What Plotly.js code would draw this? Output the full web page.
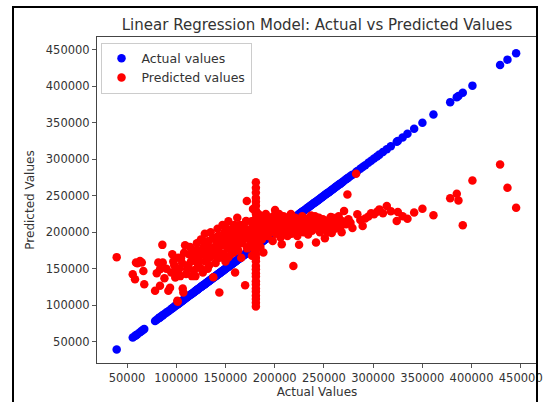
<!DOCTYPE html>
<html>
<head>
<meta charset="utf-8">
<script src="https://cdn.plot.ly/plotly-3.0.1.min.js"></script>
<style>
  html, body { margin: 0; padding: 0; background: #ffffff; }
  #wrap { position: relative; width: 547px; height: 402px; overflow: hidden; }
  #chart { position: absolute; left: 0; top: 0; width: 547px; height: 402px; }
  #frame { position: absolute; left: 12px; top: 6px; width: 526px; height: 420px;
           border: 2px solid #000; box-sizing: border-box; pointer-events: none; }
</style>
</head>
<body>
<div id="wrap">
  <div id="chart"></div>
  <div id="frame"></div>
</div>
<script>
// Actual sale prices (x) and model predictions (y)
const actualValues = [
  39500, 55800, 58100, 59100, 60500, 63200, 65000, 66600, 67500,
  78500, 80200, 81800, 83500, 83500, 85900, 86300, 88000, 90000, 92000, 93700,
  95000, 97000, 99000, 101500, 101100, 103000, 105000, 106600, 107200, 109000,
  110000, 112000, 113000, 115000, 116000, 118000, 119000, 120000, 121000, 122000,
  124000, 125000, 126000, 127000, 128000, 129000, 130000, 131000, 132000, 133000,
  134000, 135000, 136000, 137700, 138000, 139000, 140000, 141000, 142000, 143000,
  143800, 144000, 145000, 146000, 147000, 148000, 149000, 150000, 151000, 152000,
  153000, 154000, 155000, 156000, 157000, 158000, 159800, 160000, 161000, 162000,
  163000, 164000, 165000, 166000, 167000, 171700, 169000, 170000, 171000, 172000,
  173000, 171000, 175000, 176000, 177000, 178000, 179000,
  96000, 98000, 100000, 102000, 104000, 106000, 108000, 111000, 114000, 117000,
  119500, 121500, 123000, 125500, 127500, 129500, 131500, 133500, 135500, 137000,
  139500, 141500, 142500, 144500, 146500, 147500, 149500, 151500, 152500, 154500,
  156500, 157500, 159000, 161500, 163500, 164500, 166500, 168500, 170500, 172500,
  174500, 176500, 177500, 178500, 179500, 182000, 183500, 185500,
  180921, 180921, 180921, 180921, 180921, 180921, 180921, 180921, 180921, 180921,
  180921, 180921, 180921, 180921, 180921, 180921, 180921, 180921, 180921, 180921,
  180921, 180921, 180921, 180921, 180921, 180921, 180921, 180921, 180921, 180921,
  180921, 180921, 180921,
  183000, 184000, 185000, 186000, 187000, 188500, 189000, 190000, 191000, 192000,
  193000, 194000, 195000, 196000, 197000, 198000, 199000, 200400, 201000, 202000,
  203000, 204000, 205000, 206000, 207200, 208000, 209000, 210000, 211000, 212000,
  213000, 214000, 215000, 216000, 217000, 219000, 220000, 221000, 222000, 223000,
  224800, 226000, 227000, 228000, 229000, 230000, 232000, 233000, 234000, 236000,
  237000, 238000, 240000, 242000, 243000, 245000, 246000, 248000, 250000, 251000,
  253000, 255000, 257000, 258000, 260000, 262000, 264000, 266000, 268000, 270500,
  186500, 188000, 190500, 192500, 194500, 196500, 198500, 200000, 202500, 204500,
  206500, 208500, 210500, 212500, 214500, 216500, 218000, 220500, 222500, 225000,
  227500, 230500, 233500, 235000, 239000, 241000, 244000, 247000, 249000, 252000,
  254000, 256000, 259000, 261000, 263000, 265000, 267000, 269000,
  272600, 273900, 275000, 277000, 279000, 282700, 284000, 287000, 289400, 292000,
  295200, 298000, 301000, 304000, 306400, 310000, 313900, 318000, 324000, 325100,
  330000, 334900, 341700, 350100, 361300, 378300, 385000, 386700, 391100, 400900,
  429000, 436500, 445300
];
const predictedValues = [
  166000, 142600, 135800, 158600, 157700, 160800, 158600, 147100, 128900,
  120000, 144000, 158600, 126800, 149500, 182800, 158600, 137000, 150000, 120000, 124000,
  145000, 160000, 138000, 105000, 106200, 150000, 165000, 123100, 117700, 182400,
  143000, 155000, 170000, 160000, 140000, 148000, 175000, 165000, 185000, 152000,
  160000, 190000, 170000, 145000, 180000, 198000, 160000, 175000, 150000, 188000,
  165000, 200000, 178000, 138300, 170000, 192000, 158000, 185000, 205000, 175000,
  117700, 165000, 195000, 182000, 210000, 170000, 200000, 160000, 190000, 178000,
  215000, 168000, 196000, 183000, 205000, 172000, 145000, 200000, 188000, 220000,
  175000, 195000, 210000, 165000, 185000, 242800, 200000, 127600, 215000, 178000,
  195000, 215500, 190000, 205000, 168000, 232000, 185000,
  170000, 155000, 148000, 165000, 140000, 158000, 172000, 150000, 180000, 165000,
  140000, 158000, 175000, 150000, 188000, 168000, 185000, 155000, 172000, 192000,
  180000, 165000, 195000, 185000, 170000, 192000, 182000, 205000, 165000, 188000,
  175000, 195000, 210000, 180000, 205000, 185000, 198000, 190000, 205000, 198000,
  182000, 215000, 195000, 208000, 175000, 190000, 225000, 180000,
  268500, 261000, 254500, 247000, 242000, 236500, 230000, 225500, 219000, 215500,
  210000, 204500, 199500, 195000, 189000, 185500, 180000, 175500, 170000, 165000,
  160500, 154000, 149500, 144000, 139500, 133000, 128500, 123000, 118500, 113000,
  108500, 103500, 98500,
  210000, 195000, 220000, 205000, 190000, 172300, 215000, 200000, 225000, 208000,
  195000, 212000, 200000, 218000, 205000, 188000, 212000, 230500, 198000, 210000,
  220000, 203000, 215000, 193000, 183600, 210000, 222000, 200000, 215000, 207000,
  195000, 218000, 205000, 212000, 198000, 154000, 210000, 220000, 203000, 195000,
  183000, 215000, 208000, 222000, 200000, 212000, 205000, 218000, 197000, 210000,
  223000, 202000, 215000, 186000, 208000, 220000, 200000, 212000, 205000, 192000,
  216000, 208000, 221000, 199000, 212000, 206000, 218000, 210000, 200000, 229100,
  215000, 205000, 212000, 220000, 200000, 208000, 222000, 205000, 215000, 225000,
  205000, 215000, 210000, 220000, 200000, 225000, 212000, 205000, 215000, 208000,
  218000, 202000, 212000, 220000, 208000, 222000, 212000, 206000, 218000, 210000,
  200000, 215000, 220000, 205000, 213000, 222000, 208000, 215000,
  211000, 251900, 218000, 213000, 206000, 280200, 224600, 217000, 208600, 219000,
  221500, 226000, 224600, 228000, 231400, 226000, 235900, 229000, 215500, 227700,
  222000, 218700, 227000, 232400, 223300, 246500, 252900, 243700, 209600, 271000,
  293000, 261000, 233700
];
const chartTitle = 'Linear Regression Model: Actual vs Predicted Values';
const xTitle = 'Actual Values';
const yTitle = 'Predicted Values';
const seriesNames = ['Actual values', 'Predicted values'];
const tickVals = [50000, 100000, 150000, 200000, 250000, 300000, 350000, 400000, 450000];

const font = 'DejaVu Sans, sans-serif';
const textColor = '#333333';

const traces = [
  {
    type: 'scatter', mode: 'markers', name: seriesNames[0],
    x: actualValues, y: actualValues,
    marker: { color: '#0000ff', size: 8.5, line: { width: 0 } }
  },
  {
    type: 'scatter', mode: 'markers', name: seriesNames[1],
    x: actualValues, y: predictedValues,
    marker: { color: '#ff0000', size: 8.5, line: { width: 0 } }
  }
];

const axisCommon = {
  showgrid: false, zeroline: false,
  showline: true, mirror: true, linecolor: '#444', linewidth: 1,
  ticks: 'outside', ticklen: 4, tickwidth: 1, tickcolor: '#555',
  tickfont: { family: font, size: 11.5, color: textColor },
  tickmode: 'array', tickvals: tickVals, ticktext: tickVals.map(String)
};

const layout = {
  width: 547, height: 402,
  paper_bgcolor: '#ffffff', plot_bgcolor: '#ffffff',
  margin: { l: 97, r: 10, t: 37, b: 39, pad: 0 },
  showlegend: true,
  title: {
    text: chartTitle, font: { family: font, size: 15, color: textColor },
    x: 0.5, xref: 'paper', xanchor: 'center', y: 1, yref: 'paper', yanchor: 'bottom', pad: { b: 7 }
  },
  xaxis: Object.assign({}, axisCommon, {
    range: [19500, 466500],
    title: { text: xTitle, font: { family: font, size: 12, color: textColor }, standoff: 3 },
    automargin: false
  }),
  yaxis: Object.assign({}, axisCommon, {
    range: [21000, 467500],
    title: { text: yTitle, font: { family: font, size: 12, color: textColor }, standoff: 8 },
    automargin: false
  }),
  legend: {
    x: 0.008, y: 0.983, xanchor: 'left', yanchor: 'top',
    bgcolor: 'rgba(255,255,255,0.85)', bordercolor: '#cccccc', borderwidth: 1,
    font: { family: font, size: 12.5, color: textColor },
    tracegroupgap: 0, itemwidth: 30
  }
};

Plotly.newPlot('chart', traces, layout, { staticPlot: true, displayModeBar: false });
</script>
</body>
</html>
